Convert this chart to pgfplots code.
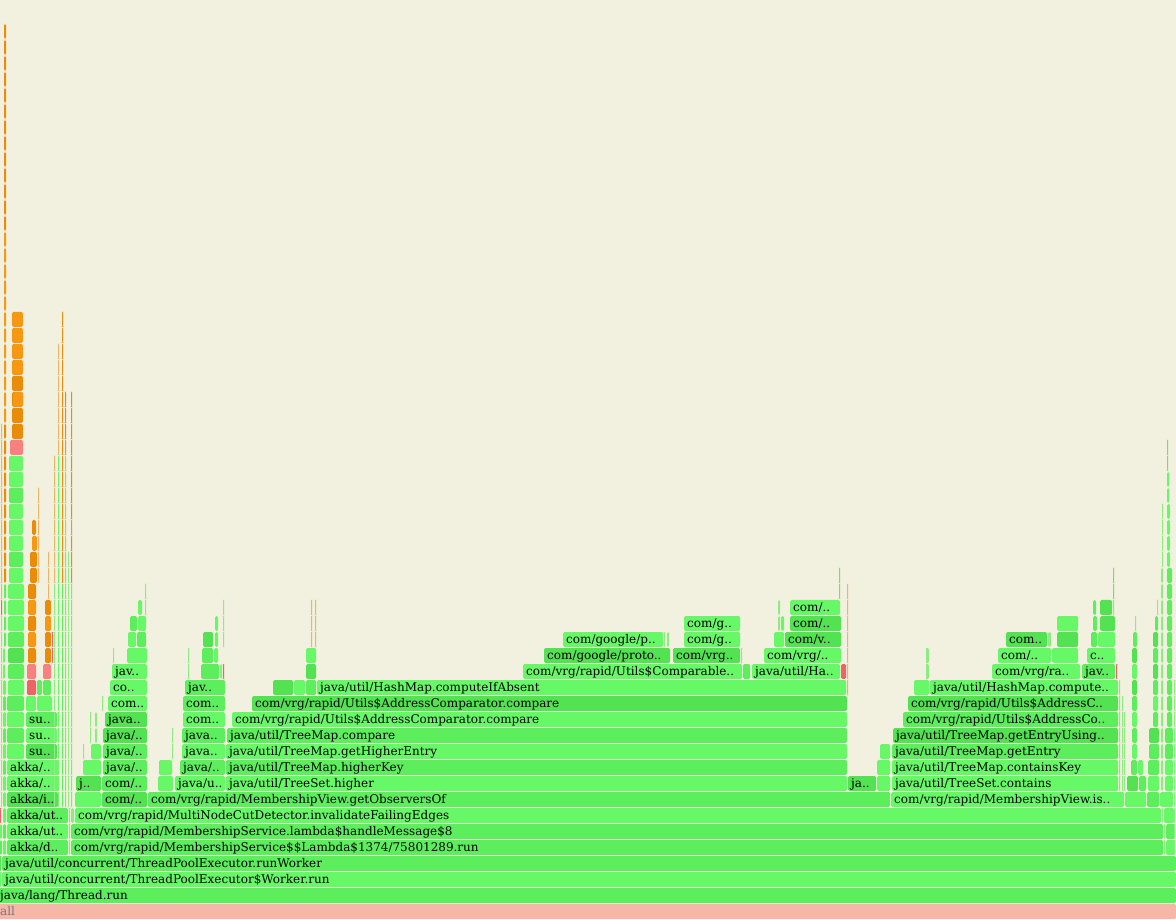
\documentclass[border=0pt]{standalone}
\usepackage{fontspec}
\setmainfont{DejaVu Serif}
\usepackage{pgfplots}
\pgfplotsset{compat=1.18}
\definecolor{bg}{RGB}{242,240,222}
\definecolor{allc}{RGB}{246,182,168}
\definecolor{allt}{RGB}{120,120,120}
\definecolor{gA}{RGB}{102,248,102}
\definecolor{gB}{RGB}{92,238,92}
\definecolor{gC}{RGB}{82,226,82}
\definecolor{gT}{RGB}{140,236,130}
\definecolor{oA}{RGB}{232,140,10}
\definecolor{oB}{RGB}{246,152,20}
\definecolor{oT}{RGB}{236,180,100}
\definecolor{rA}{RGB}{236,100,100}
\definecolor{rB}{RGB}{248,128,128}
\newcommand\lbl{\fontsize{12bp}{14bp}\selectfont}
% frame: x0, x1, level, colour, label
\newcommand\fr[5]{%
  \addplot[draw=none,fill=#4,rounded corners=1.5bp] coordinates {(#1,\the\numexpr16*#3\relax) (\the\numexpr#2-1\relax,\the\numexpr16*#3\relax) (\the\numexpr#2-1\relax,\the\numexpr16*#3+15\relax) (#1,\the\numexpr16*#3+15\relax)} --cycle;
  \ifx&#5&\else\node[anchor=base west,inner sep=0pt,font=\lbl,text=black] at (axis cs:\the\numexpr#1+3\relax,\the\numexpr16*#3+4\relax) {#5};\fi}
% column of one-colour frames: x0, x1, from level, to level, colour
\newcommand\col[5]{\pgfplotsinvokeforeach{#3,...,#4}{\fr{#1}{#2}{##1}{#5}{}}}
\begin{document}
\begin{tikzpicture}
\begin{axis}[width=1176bp,height=919bp,scale only axis,xmin=0,xmax=1176,ymin=0,ymax=919,hide axis,clip=true]
\addplot[draw=none,fill=bg] coordinates {(0,0) (1176,0) (1176,919) (0,919)} --cycle;
% level 0-3
\fr{-3}{1177}{0}{allc}{}
\node[anchor=base west,inner sep=0pt,font=\lbl,text=allt] at (axis cs:0,4) {all};
\fr{-3}{1177}{1}{gB}{java/lang/Thread.run}
\fr{0}{2}{2}{gA}{}
\fr{2}{1177}{2}{gA}{java/util/concurrent/ThreadPoolExecutor\$Worker.run}
\fr{0}{2}{3}{gC}{}
\fr{2}{1177}{3}{gB}{java/util/concurrent/ThreadPoolExecutor.runWorker}
% level 4
\fr{0}{3}{4}{gB}{}\fr{3}{7}{4}{gA}{}
\fr{7}{69}{4}{gB}{akka/d..}\fr{69}{71}{4}{gT}{}
\fr{71}{1164}{4}{gB}{com/vrg/rapid/MembershipService\$\$Lambda\$1374/75801289.run}
\fr{1164}{1166}{4}{gT}{}\fr{1166}{1176}{4}{gA}{}
% level 5
\fr{0}{3}{5}{gA}{}\fr{3}{7}{5}{gB}{}
\fr{7}{69}{5}{gA}{akka/ut..}\fr{69}{71}{5}{gT}{}
\fr{71}{1164}{5}{gB}{com/vrg/rapid/MembershipService.lambda\$handleMessage\$8}
\fr{1164}{1166}{5}{gT}{}\fr{1166}{1176}{5}{gB}{}
% level 6
\fr{0}{2}{6}{rA}{}\fr{3}{7}{6}{gA}{}
\fr{7}{69}{6}{gB}{akka/ut..}\fr{69}{71}{6}{gT}{}\fr{71}{75}{6}{gT}{}
\fr{75}{1162}{6}{gA}{com/vrg/rapid/MultiNodeCutDetector.invalidateFailingEdges}
\fr{1162}{1164}{6}{gT}{}\fr{1164}{1175}{6}{gA}{}
% level 7
\fr{3}{7}{7}{gA}{}\fr{7}{59}{7}{gC}{akka/i..}
\fr{75}{102}{7}{gA}{}\fr{102}{148}{7}{gC}{com/..}
\fr{148}{891}{7}{gB}{com/vrg/rapid/MembershipView.getObserversOf}
\fr{891}{1125}{7}{gA}{com/vrg/rapid/MembershipView.is..}
\fr{1125}{1147}{7}{gA}{}\fr{1147}{1160}{7}{gB}{}\fr{1160}{1174}{7}{gA}{}
% level 8
\fr{3}{7}{8}{gA}{}\fr{7}{60}{8}{gA}{akka/..}
\fr{76}{102}{8}{gC}{j..}\fr{102}{148}{8}{gB}{com/..}
\fr{158}{174}{8}{gA}{}\fr{175}{226}{8}{gA}{java/u..}
\fr{226}{848}{8}{gA}{java/util/TreeSet.higher}
\fr{848}{877}{8}{gC}{ja..}\fr{877}{891}{8}{gA}{}
\fr{892}{1119}{8}{gA}{java/util/TreeSet.contains}
\fr{1127}{1139}{8}{gC}{}\fr{1139}{1147}{8}{gB}{}\fr{1148}{1160}{8}{gA}{}\fr{1165}{1174}{8}{gA}{}
% level 9
\fr{3}{7}{9}{gB}{}\fr{7}{60}{9}{gA}{akka/..}
\fr{83}{102}{9}{gA}{}\fr{103}{148}{9}{gB}{java/..}
\fr{159}{173}{9}{gA}{}\fr{180}{226}{9}{gB}{java/..}
\fr{226}{848}{9}{gB}{java/util/TreeMap.higherKey}
\fr{877}{891}{9}{gA}{}
\fr{892}{1119}{9}{gA}{java/util/TreeMap.containsKey}
\fr{1131}{1138}{9}{gB}{}\fr{1138}{1144}{9}{gA}{}\fr{1148}{1160}{9}{gB}{}\fr{1165}{1174}{9}{gA}{}
% level 10
\fr{3}{7}{10}{gA}{}\fr{7}{25}{10}{gA}{}\fr{26}{58}{10}{gC}{su..}
\fr{83}{85}{10}{gT}{}\fr{91}{102}{10}{gA}{}\fr{103}{148}{10}{gB}{java/..}
\fr{172}{174}{10}{gT}{}\fr{182}{226}{10}{gA}{java..}
\fr{226}{848}{10}{gA}{java/util/TreeMap.getHigherEntry}
\fr{880}{891}{10}{gA}{}
\fr{892}{1119}{10}{gB}{java/util/TreeMap.getEntry}
\fr{1132}{1138}{10}{gA}{}\fr{1149}{1160}{10}{gB}{}\fr{1165}{1174}{10}{gB}{}
% level 11
\fr{3}{7}{11}{gB}{}\fr{7}{25}{11}{gB}{}\fr{26}{58}{11}{gA}{su..}
\fr{90}{92}{11}{gT}{}\fr{95}{98}{11}{gT}{}\fr{103}{148}{11}{gC}{java/..}
\fr{172}{174}{11}{gT}{}\fr{182}{226}{11}{gB}{java..}
\fr{227}{848}{11}{gB}{java/util/TreeMap.compare}
\fr{893}{1119}{11}{gC}{java/util/TreeMap.getEntryUsing..}
\fr{1132}{1138}{11}{gB}{}\fr{1149}{1160}{11}{gC}{}\fr{1165}{1174}{11}{gB}{}
% level 12
\fr{3}{7}{12}{gA}{}\fr{7}{25}{12}{gA}{}\fr{26}{58}{12}{gB}{su..}
\fr{90}{92}{12}{gT}{}\fr{95}{98}{12}{gT}{}\fr{105}{148}{12}{gC}{java..}
\fr{183}{226}{12}{gA}{com..}
\fr{232}{848}{12}{gA}{com/vrg/rapid/Utils\$AddressComparator.compare}
\fr{903}{1119}{12}{gB}{com/vrg/rapid/Utils\$AddressCo..}
\fr{1132}{1138}{12}{gA}{}\fr{1153}{1159}{12}{gB}{}
% level 13
\fr{3}{7}{13}{gB}{}\fr{7}{25}{13}{gB}{}\fr{26}{37}{13}{gA}{}\fr{37}{53}{13}{gA}{}
\fr{102}{104}{13}{gT}{}\fr{108}{148}{13}{gA}{com..}
\fr{183}{226}{13}{gB}{com..}
\fr{252}{848}{13}{gC}{com/vrg/rapid/Utils\$AddressComparator.compare}
\fr{908}{1119}{13}{gC}{com/vrg/rapid/Utils\$AddressC..}
\fr{1132}{1138}{13}{gB}{}\fr{1153}{1159}{13}{gA}{}
% level 14
\fr{3}{7}{14}{gA}{}\fr{8}{25}{14}{gA}{}\fr{27}{37}{14}{rA}{}\fr{37}{43}{14}{gB}{}\fr{43}{52}{14}{gB}{}
\fr{110}{148}{14}{gA}{co..}\fr{185}{226}{14}{gB}{jav..}
\fr{273}{294}{14}{gC}{}\fr{294}{306}{14}{gA}{}\fr{306}{317}{14}{gB}{}
\fr{317}{847}{14}{gA}{java/util/HashMap.computeIfAbsent}
\fr{914}{930}{14}{gA}{}
\fr{930}{1119}{14}{gA}{java/util/HashMap.compute..}
\fr{1132}{1138}{14}{gC}{}\fr{1153}{1159}{14}{gB}{}
% level 15
\fr{3}{6}{15}{gA}{}\fr{8}{25}{15}{gB}{}\fr{27}{37}{15}{rB}{}\fr{43}{52}{15}{rB}{}
\fr{112}{148}{15}{gA}{jav..}\fr{188}{190}{15}{gT}{}
\fr{201}{220}{15}{gB}{}\fr{220}{223}{15}{gT}{}\fr{223}{225}{15}{rA}{}
\fr{306}{317}{15}{gC}{}
\fr{523}{743}{15}{gA}{com/vrg/rapid/Utils\$Comparable..}
\fr{743}{751}{15}{gB}{}
\fr{752}{841}{15}{gA}{java/util/Ha..}\fr{841}{847}{15}{rA}{}
\fr{926}{930}{15}{gT}{}
\fr{992}{1081}{15}{gA}{com/vrg/ra..}\fr{1082}{1116}{15}{gB}{jav..}\fr{1116}{1118}{15}{rA}{}
\fr{1132}{1138}{15}{gA}{}\fr{1153}{1159}{15}{gC}{}
% level 16
\fr{3}{6}{16}{gA}{}\fr{8}{25}{16}{gC}{}\fr{28}{37}{16}{oA}{}\fr{45}{52}{16}{oA}{}\fr{52}{54}{16}{rA}{}
\fr{113}{115}{16}{gT}{}\fr{127}{148}{16}{gA}{}\fr{188}{190}{16}{gT}{}
\fr{202}{214}{16}{gB}{}\fr{214}{219}{16}{gA}{}\fr{306}{317}{16}{gA}{}
\fr{544}{671}{16}{gC}{com/google/proto..}
\fr{673}{741}{16}{gC}{com/vrg..}\fr{741}{743}{16}{gT}{}
\fr{764}{842}{16}{gA}{com/vrg/..}
\fr{926}{930}{16}{gT}{}
\fr{998}{1052}{16}{gA}{com/..}\fr{1052}{1079}{16}{gA}{}\fr{1087}{1116}{16}{gA}{c..}
\fr{1132}{1138}{16}{gC}{}\fr{1153}{1159}{16}{gB}{}
% level 17
\fr{8}{25}{17}{gB}{}\fr{28}{37}{17}{oB}{}\fr{45}{52}{17}{oA}{}\fr{52}{54}{17}{rA}{}
\fr{128}{137}{17}{gA}{}\fr{137}{147}{17}{gB}{}
\fr{203}{214}{17}{gC}{}\fr{215}{219}{17}{gA}{}\fr{223}{225}{17}{gT}{}
\fr{311}{313}{17}{oT}{}\fr{315}{317}{17}{oT}{}
\fr{563}{664}{17}{gA}{com/google/p..}\fr{664}{666}{17}{gT}{}\fr{667}{670}{17}{gT}{}
\fr{684}{741}{17}{gA}{com/g..}
\fr{774}{785}{17}{gA}{}\fr{785}{842}{17}{gC}{com/v..}
\fr{1006}{1048}{17}{gC}{com..}\fr{1048}{1052}{17}{gT}{}\fr{1057}{1079}{17}{gC}{}
\fr{1091}{1098}{17}{gB}{}\fr{1098}{1116}{17}{gA}{}
\fr{1133}{1138}{17}{gB}{}\fr{1153}{1159}{17}{gC}{}
% level 18
\fr{8}{25}{18}{gA}{}\fr{28}{37}{18}{oA}{}\fr{45}{52}{18}{oB}{}
\fr{130}{138}{18}{gB}{}\fr{138}{147}{18}{gA}{}
\fr{215}{219}{18}{gA}{}\fr{223}{225}{18}{gT}{}
\fr{311}{313}{18}{oT}{}\fr{315}{317}{18}{oT}{}
\fr{684}{741}{18}{gA}{com/g..}
\fr{778}{781}{18}{gT}{}\fr{781}{785}{18}{gA}{}
\fr{790}{842}{18}{gC}{com/..}
\fr{1057}{1079}{18}{gA}{}\fr{1093}{1098}{18}{gB}{}\fr{1100}{1116}{18}{gC}{}
\fr{1135}{1137}{18}{gT}{}\fr{1155}{1159}{18}{gB}{}
% level 19
\fr{8}{25}{19}{gA}{}\fr{28}{37}{19}{oB}{}\fr{45}{52}{19}{oA}{}
\fr{138}{143}{19}{gA}{}\fr{145}{147}{19}{gT}{}
\fr{223}{225}{19}{gT}{}
\fr{311}{313}{19}{oT}{}\fr{315}{317}{19}{oT}{}
\fr{778}{781}{19}{gT}{}\fr{790}{841}{19}{gA}{com/..}
\fr{1093}{1097}{19}{gB}{}\fr{1100}{1113}{19}{gC}{}\fr{1113}{1115}{19}{gT}{}
\fr{1157}{1159}{19}{gT}{}
% level 20+
\fr{8}{25}{20}{gA}{}\fr{28}{37}{20}{oA}{}\fr{145}{147}{20}{gT}{}
\col{839}{841}{20}{21}{gB}
\col{1113}{1115}{20}{21}{gB}
\col{847}{849}{14}{20}{oT}
\col{9}{24}{21}{28}{gA}
\fr{9}{24}{22}{gB}{}\fr{9}{24}{26}{gB}{}
\fr{10}{24}{29}{rB}{}
\col{12}{24}{30}{33}{oA}
\col{12}{24}{34}{37}{oB}
\fr{13}{24}{32}{oB}{}
\col{30}{38}{21}{22}{oA}
\col{32}{38}{23}{23}{oB}
\fr{32}{37}{24}{oA}{}
\col{38}{40}{21}{26}{oT}
\col{48}{50}{20}{22}{oT}
% thin columns far left
\col{1}{3}{7}{18}{gT}
\fr{1}{3}{19}{rA}{}
\col{1}{3}{20}{30}{oT}
\col{4}{7}{17}{20}{gB}
\col{4}{7}{21}{30}{oA}
\col{4}{7}{31}{42}{oB}
\col{4}{7}{43}{55}{oA}
% thin columns 53-75
\col{54}{56}{7}{20}{gT}
\col{54}{56}{21}{28}{oT}
\col{58}{60}{7}{28}{gA}
\col{58}{60}{29}{35}{oT}
\col{62}{64}{7}{20}{gB}
\col{62}{64}{21}{37}{oA}
\col{65}{67}{7}{28}{gA}
\fr{65}{67}{29}{rB}{}
\col{65}{67}{30}{32}{oA}
\col{68}{70}{7}{22}{gT}
\col{71}{73}{7}{20}{gA}
\col{71}{73}{21}{23}{oA}
\fr{71}{73}{24}{rB}{}
\col{71}{73}{25}{32}{oA}
% thin columns right
\col{1119}{1121}{8}{14}{gT}
\col{1122}{1124}{8}{13}{gT}
\col{1124}{1126}{8}{12}{gT}
\col{1161}{1164}{8}{21}{gT}
\col{1162}{1164}{22}{25}{gT}
\col{1167}{1173}{12}{21}{gB}
\col{1167}{1171}{22}{25}{gA}
\col{1167}{1170}{26}{27}{gA}
\col{1167}{1169}{28}{29}{gB}
\col{1174}{1176}{4}{14}{gT}
\col{926}{928}{15}{16}{gT}
\end{axis}
\end{tikzpicture}
\end{document}
